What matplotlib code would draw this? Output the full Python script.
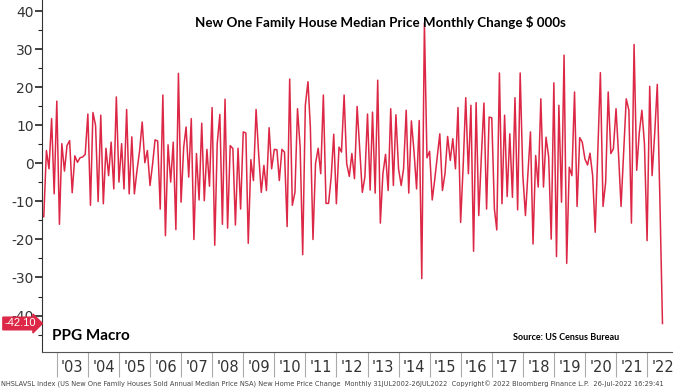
import matplotlib
matplotlib.use("Agg")
import matplotlib.pyplot as plt
import matplotlib.transforms as mtransforms
import numpy as np
import pandas as pd

# monthly change of the median new one-family house price, $000s (Jul 2002 - Jun 2022)
mom_change = [
    -14, 3.4, -1.4, 11.8, -8, 16.4, -16, 5.2, -2, 4.7, 6, -7.7, 2, 0.3, 1.5, 1.7, 2.4,
    13, -11, 13.4, 10, -10, 12.7, -10.6, 4, -3.2, 5.6, -6.7, 17.5, -4.9, 5.2, -6.7,
    14.2, -8, 7, -8, -1.8, 3.4, 10.9, 0.2, 3.4, -5.8,
    0, 6.2, 5.9, -12, 18, -19, 4.9, -4.9, 5.6, -17.4, 23.7, -10.2, 4.3, 9.6, -3.6,
    11.8, -20, 2.6, -9.6, 10.6, -9.8, 3.7, -6, 14.7, -21.5, 5.2, 12.9, -16, 16.9,
    -17, 4.7, 3.9, -16.2, 4, -12, 8.3, 8, -21, 1, -4.5,
    14.2, 2.6, -7.6, -0.5, -7.1, 9.4, -1.4, 3.7, 3.6, -4.5, 3.7, 3, -16.6, 22.2,
    -11, -7.6, 14.4, 4.3, -24, 15.3, 21.5, 9.6, -20, 0, 4, -2.7, 18, -10.5, -10.5,
    -3.6, 7.7, -10.6, 4.3, 3, 18, 0, -3.4, 2.6, -4, 15,
    4, -7.6, -3.6, 13, -7, 13.5, -7.8, 21.9, -15.7, -2.7, 2.4, -7.1, 14.4, -5.8,
    12.8, -1.4, -5.8, -1.4, 14, -7.8, 11.2, 3.4, -6.7, 11.3, -30.3, 37, 1.5, 3.2,
    -9.6, -4.5, 1.7, 7.8, -7.1, -2.7, 7.1, 0.8, 6.5, -1.4, 14.7,
    -15.5, 0, 17.3, -2.7, 15.3, -23.1, 16, -13.7, 2, 15.9, -12, 12.2, 12, -12,
    -17.5, 23.8, -10.6, 12.7, -8.7, 7.8, -8.9, 17.3, -12.2, 23.8, -3, -13.7, -3,
    8.3, -21.2, 2.1, -6.2, 17, -6.2, 6.9, 1.7, -19.9, 21.2, -24.5, 15.3, -10.2,
    28.5, -26.3, -1, -3.2, 18.8, -11.3, 6.8, 5.6, 1.2, -0.4, 2.7, -3.2, -18.1, 3,
    23.9, -11.3, -4.9, 18.8, 2.6, 3.9, 14.4, 1.7, -11.3, 3, 17, 14, -15.7, 31.3,
    -1.8, 8, 14, 5.2, -20.3, 20.3, -3.2, 8, 20.8, -10, -42.1,
]
dates = pd.date_range("2002-07-31", periods=len(mom_change), freq="ME")
years = list(range(2003, 2023))
year_labels = ["'%02d" % (y % 100) for y in years]
last_label = "-42.10"

red = "#dc2846"
plt.rcParams['font.family'] = ['DejaVu Sans']

fig = plt.figure(figsize=(6.79, 3.91), dpi=100)
ax = fig.add_axes([42 / 679, 1 - 352 / 391, 630 / 679, 352 / 391])
ax.plot(dates, mom_change, color=red, lw=1.1)

ax.set_ylim(-49.6, 43)
ax.set_xlim(pd.Timestamp("2002-07-10"), pd.Timestamp("2022-10-20"))
ax.set_yticks(np.arange(-40, 41, 10))
ax.set_yticklabels([str(v) for v in range(-40, 41, 10)])
ax.set_yticks(np.arange(-45, 43, 5), minor=True)
ax.tick_params(axis='y', which='major', length=5, width=1.2, pad=1, labelsize=10,
               labelcolor='#333333', color='#222222')
ax.tick_params(axis='y', which='minor', length=3, width=0.8, color='#222222')

ax.set_xticks([pd.Timestamp(f"{y}-01-01") for y in years])
ax.set_xticks([pd.Timestamp(f"{y}-07-02") for y in years], minor=True)
ax.set_xticklabels([], minor=False)
ax.set_xticklabels(year_labels, minor=True)
ax.tick_params(axis='x', which='major', length=18, width=0.8, color='#aaaaaa')
ax.tick_params(axis='x', which='minor', length=0, pad=6, labelsize=10.5,
               labelcolor='#333333')

for s in ['top', 'right']:
    ax.spines[s].set_visible(False)
ax.spines['left'].set_color('#333333')
ax.spines['bottom'].set_color('#555555')

# last value tag on the y axis
trans = mtransforms.blended_transform_factory(ax.transAxes, ax.transData)
ax.text(-0.01, mom_change[-1], last_label, transform=trans, ha='right', va='center',
        color='white', fontsize=8, family='Liberation Sans',
        bbox=dict(boxstyle='rarrow,pad=0.12', fc=red, ec=red))

fig.text(0.56, 0.942, "New One Family House Median Price Monthly Change \\$ 000s",
         ha='center', va='center', fontsize=9.6, fontweight='bold', family='Lato')
fig.text(52 / 679, 1 - 336 / 391, "PPG Macro", ha='left', va='center',
         fontsize=11, fontweight='bold', family='Lato')
fig.text(619 / 679, 1 - 337 / 391, "Source: US Census Bureau", ha='right',
         va='center', fontsize=6.5, fontweight='bold', family='Lato')
fig.text(1 / 679, 1 - 384 / 391,
         "NHSLAVSL Index (US New One Family Houses Sold Annual Median Price NSA) "
         "New Home Price Change  Monthly 31JUL2002-26JUL2022  Copyright\u00a9 2022 "
         "Bloomberg Finance L.P.  26-Jul-2022 16:29:41",
         ha='left', va='center', fontsize=4.8, color='#444444')

fig.savefig("out.png", dpi=100)
